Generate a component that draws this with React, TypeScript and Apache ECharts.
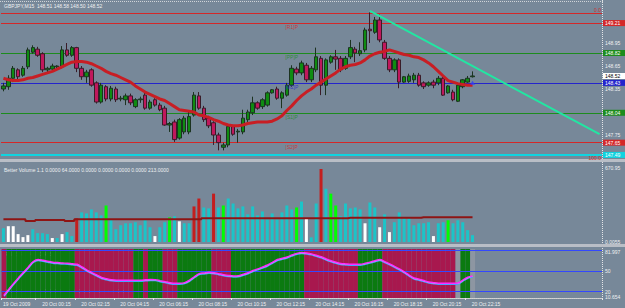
import { useEffect, useRef } from 'react';
import * as echarts from 'echarts';

// ---------- data ----------
const SLOT_COUNT = 123; // bar slots across the plot width (97 filled)

const OPEN = [148.35,148.38,148.49,148.60,148.53,148.64,148.83,148.87,148.81,148.60,
148.61,148.64,148.64,148.86,148.79,148.89,148.62,148.51,148.60,148.43,
148.18,148.38,148.22,148.35,148.22,148.21,148.26,148.12,148.21,148.27,
148.10,148.21,148.14,148.10,147.88,147.92,147.71,147.79,147.79,148.01,
148.26,148.10,147.97,147.91,147.75,147.59,147.62,147.86,147.79,147.79,
147.95,148.04,148.17,148.12,148.14,148.30,148.35,148.23,148.27,148.40,
148.61,148.56,148.66,148.47,148.60,148.75,148.40,148.70,148.77,148.75,
148.62,148.77,148.87,148.81,148.86,149.13,149.09,149.25,148.96,148.75,
148.60,148.73,148.44,148.45,148.47,148.53,148.43,148.40,148.44,148.43,
148.49,148.30,148.31,148.19,148.38,148.44,148.51];
const CLOSE = [148.39,148.49,148.62,148.51,148.62,148.86,148.89,148.79,148.60,148.62,
148.65,148.65,148.86,148.79,148.89,148.62,148.51,148.57,148.40,148.18,
148.40,148.22,148.36,148.21,148.23,148.26,148.17,148.21,148.22,148.10,
148.18,148.14,148.08,147.88,147.90,147.69,147.95,147.97,147.99,148.27,
148.10,147.95,147.87,147.75,147.65,147.62,147.86,147.76,147.80,147.97,
148.05,148.17,148.10,148.21,148.30,148.34,148.23,148.30,148.40,148.62,
148.56,148.69,148.47,148.62,148.77,148.40,148.73,148.77,148.74,148.60,
148.75,148.89,148.82,148.85,149.12,149.11,149.25,148.99,148.75,148.60,
148.73,148.44,148.51,148.52,148.53,148.40,148.38,148.43,148.40,148.49,
148.27,148.39,148.21,148.40,148.47,148.49,148.52];
const HIGH = [148.43,148.53,148.65,148.62,148.65,148.89,148.92,148.90,148.83,148.64,
148.68,148.66,148.91,148.95,148.91,148.90,148.65,148.60,148.62,148.45,
148.43,148.40,148.39,148.38,148.26,148.29,148.29,148.23,148.25,148.30,
148.21,148.23,148.17,148.13,147.92,147.95,147.97,148.00,148.05,148.31,
148.31,148.13,148.00,147.93,147.78,147.65,147.88,147.88,147.83,148.08,
148.08,148.25,148.19,148.23,148.32,148.35,148.38,148.32,148.43,148.66,
148.64,148.72,148.69,148.65,148.89,148.78,148.75,148.79,148.86,148.78,
148.78,148.99,148.90,148.96,149.15,149.35,149.29,149.32,148.99,148.78,
148.75,148.75,148.52,148.55,148.56,148.56,148.45,148.45,148.47,148.52,
148.52,148.40,148.34,148.43,148.48,148.52,148.58];
const LOW = [148.32,148.34,148.44,148.48,148.51,148.61,148.81,148.77,148.57,148.57,
148.59,148.62,148.62,148.77,148.77,148.57,148.47,148.43,148.38,148.16,
148.16,148.19,148.19,148.18,148.19,148.14,148.14,148.10,148.17,148.08,
148.08,148.12,148.06,147.87,147.79,147.66,147.69,147.76,147.76,147.99,
148.08,147.92,147.84,147.62,147.55,147.55,147.59,147.74,147.65,147.76,
147.92,148.01,148.08,148.09,148.12,148.29,148.21,148.10,148.25,148.38,
148.53,148.53,148.44,148.44,148.57,148.27,148.27,148.68,148.60,148.57,
148.60,148.74,148.70,148.78,148.83,148.95,149.07,148.96,148.73,148.57,
148.57,148.36,148.43,148.43,148.43,148.38,148.35,148.38,148.36,148.40,
148.26,148.29,148.19,148.18,148.36,148.43,148.50];

const MA = [148.49,148.47,148.46,148.46,148.47,148.49,148.50,148.52,148.54,148.56,
148.58,148.61,148.64,148.67,148.70,148.71,148.71,148.70,148.68,148.65,
148.62,148.58,148.55,148.53,148.50,148.47,148.44,148.39,148.35,148.31,
148.28,148.25,148.22,148.20,148.16,148.12,148.08,148.07,148.06,148.05,
148.01,148.00,147.98,147.95,147.93,147.90,147.88,147.87,147.87,147.88,
147.90,147.91,147.92,147.92,147.92,147.93,147.96,148.00,148.07,148.13,
148.20,148.26,148.31,148.35,148.40,148.44,148.48,148.52,148.56,148.61,
148.64,148.66,148.67,148.69,148.73,148.78,148.81,148.83,148.84,148.86,
148.84,148.82,148.80,148.79,148.77,148.76,148.73,148.69,148.64,148.58,
148.52,148.46,148.44,148.42,148.41,148.40,148.40];

const TRENDLINE = [[75, 149.37], [122, 147.76]];

const LEVEL_PRICES = [149.34, 149.21, 148.82, 148.43, 148.04, 147.65, 147.49];
const LEVEL_TAGS = ['', '[R1]P', '[PP]P', '[M2]P', '[S1]P', '[S2]P', ''];
const BID = 148.52;
const PRICE_TICKS = [147.75, 148.05, 148.35, 148.65, 148.95];

const VOLUME = [119,136,136,68,42,59,110,76,76,68,
34,34,68,85,51,204,255,246,280,255,
229,314,187,110,144,161,161,170,144,187,
127,51,127,170,212,221,178,161,161,306,
374,297,289,416,297,314,374,331,289,306,
238,306,229,263,195,246,195,255,314,280,
297,348,204,40,331,628,458,416,314,221,
331,289,297,280,161,340,297,127,238,85,
170,255,204,204,144,161,161,170,51,161,
170,187,161,187,170,102,59];
const VOLUME_KIND = 'cwwwwwcccc' + 'wcwccrcccc' + 'clcccccccc' + 'cwcclcwccr' + 'rccrclcccc' +
  'cccccccccc' + 'lcwccrcllc' + 'ccccwccwcw' + 'ccccccccwc' + 'clccccc';
const VOLUME_AVG = [195,195,195,195,195,181,181,189,189,189,
189,189,189,181,181,195,195,195,195,195,
195,195,195,195,195,195,195,195,195,195,
195,195,195,195,195,195,195,195,195,195,
195,204,204,204,204,204,204,204,204,204,
204,204,204,204,204,204,204,204,204,204,
204,204,204,204,204,204,204,204,204,204,
204,208,208,208,208,208,208,208,208,208,
208,208,208,208,208,208,213,213,213,213,
213,213,213,213,213,213,213];

const RSI = [14.8,23.5,32.2,40.3,48.3,55.9,63.8,66.8,65.6,64.2,
62.8,62.2,61.6,61.2,60.4,59.7,55.8,51.3,47.7,44.1,
40.6,38.6,37.1,36.5,36.5,36.5,36.5,36.5,36.5,37.1,
37.7,37.4,35.9,34.5,33.0,32.2,32.2,33.0,36.5,41.6,
46.2,47.2,48.0,47.5,46.1,44.6,43.5,42.8,43.2,45.2,
47.4,50.7,53.0,55.8,58.7,62.6,66.7,68.4,70.3,73.2,
75.6,76.8,76.2,74.9,72.8,70.6,67.5,64.9,62.8,61.0,
60.3,59.7,59.7,59.7,61.2,62.9,64.9,66.8,63.6,60.3,
56.8,53.0,48.7,43.8,39.7,38.1,36.1,33.9,33.0,32.3,
32.2,32.2,32.2,32.5,36.7,40.9,42.65];
const RSI_ZONE = 'r' + 'gggggggggggggg' + 'rrrrrrrrrrrr' + 'gg' + 'r' + 'ggg' + 'rrr' + 'ggggggg' + 'rrrr' +
  'ggggggggggggggg' + 'rrrrrrrrrrr' + 'ggggg' + 'rrrrrrrrrrrrrrr' + 'n' + 'gg' + 'n';
const RSI_LEVELS = [20, 50, 80];
const RSI_MIN = 10.654;
const RSI_MAX = 81.997;
const VOL_MAX = 670.95;

const TIME_TICKS = [0, 7, 15, 23, 31, 39, 47, 55, 63, 71, 79, 87, 95];
const TIME_LABELS = ['19 Oct 2009', '20 Oct 00:15', '20 Oct 02:15', '20 Oct 04:15', '20 Oct 06:15',
  '20 Oct 08:15', '20 Oct 10:15', '20 Oct 12:15', '20 Oct 14:15', '20 Oct 16:15', '20 Oct 18:15',
  '20 Oct 20:15', '20 Oct 22:15'];

// ---------- styling ----------
const BG = '#778899';
const FONT = 'Liberation Sans, Arial, sans-serif';
const FS = 5;
const TXT = '#eef0f2';
const LEVEL_COLORS = ['#d42828', '#d42828', '#1d8c1d', '#2424cc', '#1d8c1d', '#d42828', '#10d4e0'];
const VOL_COLORS: Record<string, string> = { c: '#1cc4c8', w: '#ffffff', r: '#c41e1e', l: '#00ff00' };
const ZONE_COLORS: Record<string, string> = { r: '#a8184e', g: '#0b7a10' };

function buildOption(): any {
  const slots = Array.from({ length: SLOT_COUNT }, (_, i) => String(i));
  const candles = OPEN.map((o, i) => [o, CLOSE[i], LOW[i], HIGH[i]]);

  const levelLines: any[] = LEVEL_PRICES.map((p, i) => {
    const c = LEVEL_COLORS[i];
    const base: any = { yAxis: p, lineStyle: { color: c, width: i === 6 ? 2 : 1, type: 'solid' } };
    if (i === 0) {
      base.label = { show: true, position: 'insideEndTop', formatter: '0.0', color: c, fontSize: FS, fontFamily: FONT, distance: 1 };
    } else {
      base.label = {
        show: true, position: 'end', formatter: p.toFixed(2), color: '#ffffff', backgroundColor: c,
        fontSize: FS, fontFamily: FONT, padding: [1, 2, 0, 2], width: 18, distance: 1,
      };
    }
    return base;
  });
  levelLines.push({
    yAxis: BID, lineStyle: { color: 'rgba(0,0,0,0)', width: 1 },
    label: { show: true, position: 'end', formatter: BID.toFixed(2), color: '#000000', backgroundColor: '#ffffff',
      fontSize: FS, fontFamily: FONT, padding: [1, 2, 0, 2], width: 18, distance: 1 },
  });
  levelLines.push({
    yAxis: LEVEL_PRICES[6], lineStyle: { color: 'rgba(0,0,0,0)', width: 1 },
    label: { show: true, position: 'insideEndBottom', formatter: '100.0', color: '#d42828', fontSize: FS, fontFamily: FONT, distance: 1 },
  });

  const tagData = LEVEL_PRICES.map((p, i) => ({
    value: [59, p],
    label: { show: !!LEVEL_TAGS[i], formatter: LEVEL_TAGS[i], color: LEVEL_COLORS[i] },
  })).filter((_d, i) => LEVEL_TAGS[i]);

  const xBase = (gridIndex: number) => ({
    type: 'category', gridIndex, data: slots, boundaryGap: true,
    axisLine: { show: false }, axisTick: { show: false }, axisLabel: { show: false }, splitLine: { show: false },
  });

  const tickSet = new Set(TIME_TICKS);

  return {
    animation: false,
    backgroundColor: BG,
    textStyle: { fontFamily: FONT },
    grid: [
      { left: 1, right: 23, top: 1, height: 157 },
      { left: 1, right: 23, top: 164, height: 78 },
      { left: 1, right: 23, top: 249, height: 49 },
    ],
    xAxis: [
      xBase(0),
      xBase(1),
      {
        ...xBase(2),
        axisLine: { show: true, lineStyle: { color: '#d8d8d8', type: 'dotted', width: 1 } },
        axisTick: { show: true, interval: (i: number) => tickSet.has(i), length: 2, lineStyle: { color: '#e8e8e8' } },
        axisLabel: {
          show: true, interval: (i: number) => tickSet.has(i), align: 'left', margin: 3,
          formatter: (_v: string, idx: number) => {
            const k = TIME_TICKS.indexOf(idx);
            const t = k >= 0 ? TIME_LABELS[k] : '';
            return idx === 0 ? `{f|${t}}` : `{n|${t}}`;
          },
          rich: {
            f: { color: TXT, fontSize: FS, fontFamily: FONT, padding: [0, 0, 0, -1] },
            n: { color: TXT, fontSize: FS, fontFamily: FONT, padding: [0, 0, 0, 4] },
          },
        },
      },
    ],
    yAxis: [
      {
        type: 'value', gridIndex: 0, position: 'right', min: 147.45, max: 149.498, scale: true,
        splitLine: { show: false }, axisLine: { show: false }, axisTick: { show: false },
        axisLabel: { customValues: PRICE_TICKS, color: TXT, fontSize: FS, fontFamily: FONT, margin: 3,
          formatter: (v: number) => v.toFixed(2) },
      },
      {
        type: 'value', gridIndex: 1, position: 'right', min: 0, max: VOL_MAX,
        splitLine: { show: false }, axisLine: { show: false }, axisTick: { show: false },
        axisLabel: { customValues: [0, VOL_MAX], color: TXT, fontSize: FS, fontFamily: FONT, margin: 3, hideOverlap: false,
          formatter: (v: number) => (v === 0 ? '{b|0.0055}' : '{t|' + v.toFixed(2) + '}'),
          rich: {
            t: { color: TXT, fontSize: FS, fontFamily: FONT, padding: [8, 0, 0, 0] },
            b: { color: TXT, fontSize: FS, fontFamily: FONT },
          } },
      },
      {
        type: 'value', gridIndex: 2, position: 'right', min: RSI_MIN, max: RSI_MAX,
        splitLine: { show: false }, axisLine: { show: false }, axisTick: { show: false },
        axisLabel: { customValues: [RSI_MIN, 20, 50, RSI_MAX], color: TXT, fontSize: FS, fontFamily: FONT, margin: 3,
          hideOverlap: false, showMinLabel: true, showMaxLabel: true,
          formatter: (v: number) => (v === RSI_MAX ? '{t|' + v.toFixed(3) + '}' : v === RSI_MIN ? '{b|' + v.toFixed(3) + '}' : '{m|' + v + '}'),
          rich: {
            t: { color: TXT, fontSize: FS, fontFamily: FONT, padding: [5, 0, 0, 0] },
            b: { color: TXT, fontSize: FS, fontFamily: FONT, padding: [0, 0, 2, 0] },
            m: { color: TXT, fontSize: FS, fontFamily: FONT },
          } },
      },
    ],
    series: [
      {
        type: 'candlestick', xAxisIndex: 0, yAxisIndex: 0, data: candles, barWidth: 4, z: 3,
        itemStyle: { color: '#0f8c12', color0: '#c0185c', borderColor: '#1c3320', borderColor0: '#3a1c28', borderWidth: 1 },
        markLine: { silent: true, symbol: 'none', animation: false, z: 1, data: levelLines },
      },
      {
        type: 'line', xAxisIndex: 0, yAxisIndex: 0, data: MA, symbol: 'none', z: 4,
        lineStyle: { color: '#c81e24', width: 3 },
      },
      {
        type: 'line', xAxisIndex: 0, yAxisIndex: 0, data: TRENDLINE, symbol: 'none', z: 5,
        lineStyle: { color: '#22e6a2', width: 2 },
      },
      {
        type: 'scatter', xAxisIndex: 0, yAxisIndex: 0, data: tagData, symbolSize: 0, z: 6, silent: true,
        label: { show: true, position: 'inside', offset: [0, 4], fontSize: FS, fontFamily: FONT },
      },
      {
        type: 'scatter', xAxisIndex: 0, yAxisIndex: 0, data: [[96, LEVEL_PRICES[3]]], symbol: 'triangle',
        symbolSize: [5, 4], itemStyle: { color: '#2a3cff' }, z: 6,
      },
      {
        type: 'bar', xAxisIndex: 1, yAxisIndex: 1, barWidth: 3, z: 2,
        data: VOLUME.map((v, i) => ({ value: v, itemStyle: { color: VOL_COLORS[VOLUME_KIND[i]] } })),
      },
      {
        type: 'line', xAxisIndex: 1, yAxisIndex: 1, data: VOLUME_AVG, symbol: 'none', z: 3, step: 'middle',
        lineStyle: { color: '#8e1414', width: 2 },
      },
      {
        type: 'bar', xAxisIndex: 2, yAxisIndex: 2, barWidth: '100%', barCategoryGap: '0%', z: 1,
        data: RSI_ZONE.split('').map((z) =>
          z === 'n' ? { value: RSI_MAX, itemStyle: { color: '#8d96a2' } } : { value: RSI_MAX, itemStyle: { color: ZONE_COLORS[z] } }),
      },
      {
        type: 'line', xAxisIndex: 2, yAxisIndex: 2, data: RSI, symbol: 'none', z: 4, smooth: 0.3,
        lineStyle: { color: '#ff2cff', width: 1.5, shadowColor: '#4aa0ff', shadowOffsetY: 1, shadowBlur: 0 },
        markLine: {
          silent: true, symbol: 'none', z: 2, label: { show: false },
          data: RSI_LEVELS.map((v) => ({ yAxis: v, lineStyle: { color: '#3348ff', width: 1, type: 'solid' } })),
        },
      },
    ],
    graphic: [
      { type: 'line', shape: { x1: 0, y1: 1.5, x2: 603, y2: 1.5 }, style: { stroke: '#d0d4d8', lineWidth: 1, lineDash: [1, 1] }, silent: true },
      { type: 'line', shape: { x1: 602.5, y1: 0, x2: 602.5, y2: 298 }, style: { stroke: '#e4e6e8', lineWidth: 1, lineDash: [1, 1] }, silent: true },
      { type: 'rect', shape: { x: 0, y: 159, width: 625, height: 3 }, style: { fill: '#b9bec6' }, silent: true },
      { type: 'rect', shape: { x: 0, y: 244, width: 625, height: 3 }, style: { fill: '#b9bec6' }, silent: true },
      { type: 'text', left: 4, top: 3, style: { text: 'GBPJPY,M15  148.51 148.58 148.50 148.52', fill: TXT, fontSize: FS, fontFamily: FONT }, silent: true },
      { type: 'text', left: 4, top: 167, style: { text: 'Better Volume 1.1 0.0000 64.0000 0.0000 0.0000 0.0000 0.0000 213.0000', fill: TXT, fontSize: FS, fontFamily: FONT }, silent: true },
      { type: 'text', left: 4, top: 251, style: { text: 'RSI(2) 42.646 40.453', fill: TXT, fontSize: FS, fontFamily: FONT }, silent: true },
      { type: 'text', left: 5, top: 288, style: { text: 'Broco Trader, © 2001-2009 MetaQuotes Software Corp.', fill: TXT, fontSize: FS, fontFamily: FONT }, silent: true },
    ],
  };
}

export default function App() {
  const ref = useRef<HTMLDivElement>(null);
  useEffect(() => {
    if (!ref.current) return;
    const chart = echarts.init(ref.current, null, { renderer: 'svg' });
    chart.setOption(buildOption());
    return () => chart.dispose();
  }, []);
  return <div ref={ref} style={{ position: 'fixed', left: 0, top: 0, width: 625, height: 308, background: BG }} />;
}
